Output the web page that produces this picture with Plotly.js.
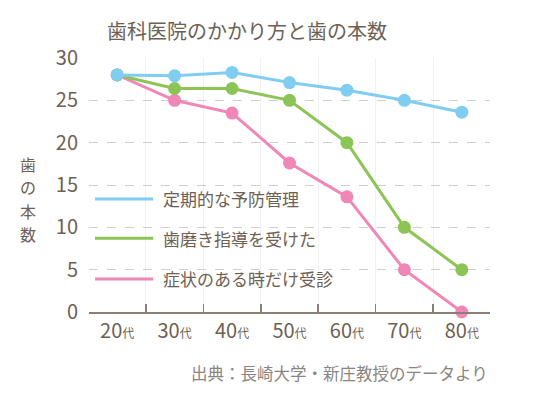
<!DOCTYPE html>
<html>
<head>
<meta charset="utf-8">
<script src="https://cdn.plot.ly/plotly-3.0.1.min.js"></script>
<style>
  html, body { margin: 0; padding: 0; background: #fff; }
  #chart { width: 537px; height: 401px; }
</style>
</head>
<body>
<div id="chart"></div>
<script>
// 年代ごとの歯の本数
const ages = ["20", "30", "40", "50", "60", "70", "80"];
const regular = [28, 27.9, 28.3, 27.1, 26.2, 25, 23.6];
const brushing = [28, 26.4, 26.4, 25, 20, 10, 5];
const symptom = [28, 25, 23.5, 17.6, 13.6, 5, 0];
const names = ["定期的な予防管理", "歯磨き指導を受けた", "症状のある時だけ受診"];
const colors = ["#80cdf2", "#8cc556", "#ef88b6"];
const yTitle = ["歯", "の", "本", "数"];

const font = "'Noto Sans CJK JP', 'Noto Sans', sans-serif";
const brown = "#6d6154";

const cats = ages.map((a) => a + "代");
const tickText = ages.map((a) => a + '<span style="font-size:12px">代</span>');

// 青が一番上に来るように逆順で描く
const series = [regular, brushing, symptom]
  .map((y, i) => ({
    name: names[i],
    x: cats,
    y: y,
    type: "scatter",
    mode: "lines+markers",
    line: { color: colors[i], width: 3 },
    marker: { color: colors[i], size: 13 },
    showlegend: false,
    cliponaxis: false,
  }))
  .reverse();

// 凡例（線の長さを合わせるため手描き）
const legendY = [0.445, 0.29, 0.13];
const shapes = names.map((n, i) => ({
  type: "line",
  xref: "paper",
  yref: "paper",
  x0: 0.015,
  x1: 0.16,
  y0: legendY[i],
  y1: legendY[i],
  line: { color: colors[i], width: 3 },
}));
const annotations = names.map((n, i) => ({
  text: n,
  xref: "paper",
  yref: "paper",
  x: 0.18,
  y: legendY[i],
  xanchor: "left",
  yanchor: "middle",
  showarrow: false,
  font: { family: font, size: 17, color: brown },
}));
// 縦書きのy軸タイトル（1文字ずつ）
yTitle.forEach((ch, i) => {
  annotations.push({
    text: ch,
    xref: "paper",
    yref: "paper",
    x: -0.152,
    y: 0.583 - i * 0.0925,
    xanchor: "center",
    yanchor: "middle",
    showarrow: false,
    font: { family: font, size: 16, color: brown },
  });
});
annotations.push({
  text: "出典：長崎大学・新庄教授のデータより",
  xref: "paper",
  yref: "paper",
  x: 1.0,
  y: -0.24,
  xanchor: "right",
  yanchor: "middle",
  showarrow: false,
  font: { family: font, size: 16.5, color: "#8a8580" },
});

const layout = {
  width: 537,
  height: 401,
  margin: { l: 89, r: 47, t: 58, b: 89 },
  paper_bgcolor: "#fff",
  plot_bgcolor: "#fff",
  title: {
    text: "歯科医院のかかり方と歯の本数",
    font: { family: font, size: 20, color: brown },
    x: 0.46,
    xanchor: "center",
    y: 0.92,
    yanchor: "middle",
  },
  xaxis: {
    type: "category",
    tickmode: "array",
    tickvals: cats,
    ticktext: tickText,
    tickson: "boundaries",
    ticks: "inside",
    ticklen: 8,
    tickwidth: 1.5,
    tickcolor: "#8a7f73",
    showline: true,
    linecolor: "#8a7f73",
    linewidth: 2,
    showgrid: true,
    gridcolor: "#f1f1f1",
    gridwidth: 1,
    tickfont: { family: font, size: 20, color: brown },
    fixedrange: true,
  },
  yaxis: {
    range: [0, 30],
    dtick: 5,
    showline: false,
    zeroline: false,
    showgrid: true,
    gridcolor: "#cfcfcf",
    griddash: "dash",
    gridwidth: 1,
    ticks: "",
    ticklabelstandoff: 10,
    tickfont: { family: font, size: 20, color: brown },
    fixedrange: true,
  },
  shapes: shapes,
  annotations: annotations,
  showlegend: false,
};

Plotly.newPlot("chart", series, layout, { displayModeBar: false, staticPlot: true });
</script>
</body>
</html>
